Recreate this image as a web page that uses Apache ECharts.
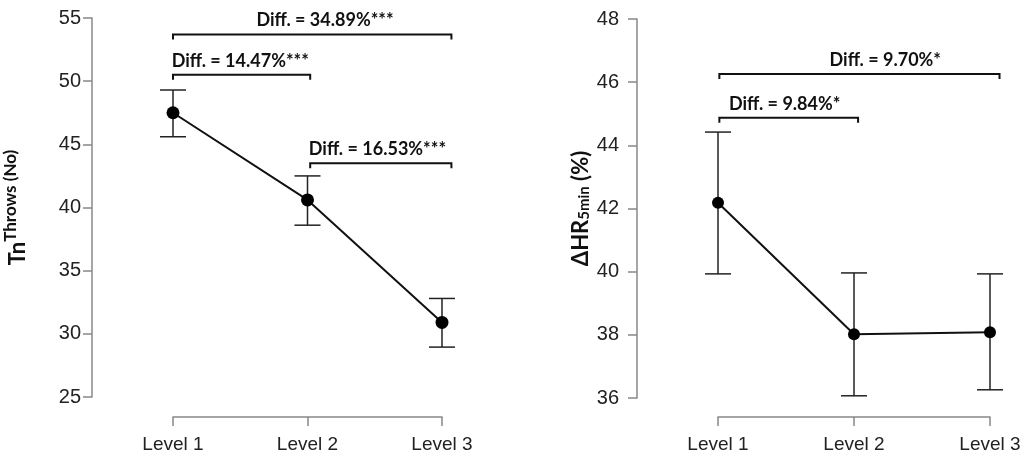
<!DOCTYPE html>
<html>
<head>
<meta charset="utf-8">
<script src="https://cdn.jsdelivr.net/npm/echarts@6/dist/echarts.min.js"></script>
<style>
  html, body { margin: 0; padding: 0; background: #fff; }
  #chart { width: 1021px; height: 457px; }
</style>
</head>
<body>
<div id="chart"></div>
<script>
// 横轴类别
const levels = ['Level 1', 'Level 2', 'Level 3'];
const levelPos = [1, 2, 3];

// 左图：投掷次数（均值与误差范围）
const throwsMean = [47.5, 40.6, 30.9];
const throwsLow = [45.6, 38.6, 28.95];
const throwsHigh = [49.3, 42.5, 32.8];

// 右图：ΔHR 5min
const hrMean = [42.18, 38.02, 38.08];
const hrLow = [39.93, 36.07, 36.26];
const hrHigh = [44.42, 39.96, 39.93];

// 显著性括号（起点、终点、高度、文字中心）
const throwsDiffText = ['Diff. = 34.89%***', 'Diff. = 14.47%***', 'Diff. = 16.53%***'];
const throwsDiffFrom = [1, 1, 2.02];
const throwsDiffTo = [3.07, 2.02, 3.07];
const throwsDiffY = [53.7, 50.5, 43.5];
const throwsDiffLabelX = [2.13, 1.5, 2.52];

const hrDiffText = ['Diff. = 9.70%*', 'Diff. = 9.84%*'];
const hrDiffFrom = [1.01, 1.01];
const hrDiffTo = [3.07, 2.03];
const hrDiffY = [46.26, 44.87];
const hrDiffLabelX = [2.23, 1.49];

const tickFont = "'Liberation Sans', Arial, sans-serif";
const noteFont = "Lato, 'Open Sans', sans-serif";

const chart = echarts.init(document.getElementById('chart'));

function errorBarItem(low, high) {
  return function (params, api) {
    const i = params.dataIndex;
    const top = api.coord([levelPos[i], high[i]]);
    const bot = api.coord([levelPos[i], low[i]]);
    const half = 13;
    const style = { stroke: '#222', lineWidth: 1.5 };
    return {
      type: 'group',
      children: [
        { type: 'line', shape: { x1: top[0], y1: top[1], x2: bot[0], y2: bot[1] }, style },
        { type: 'line', shape: { x1: top[0] - half, y1: top[1], x2: top[0] + half, y2: top[1] }, style },
        { type: 'line', shape: { x1: bot[0] - half, y1: bot[1], x2: bot[0] + half, y2: bot[1] }, style }
      ]
    };
  };
}

function bracketItem(from, to, yv, labelX, texts) {
  return function (params, api) {
    const i = params.dataIndex;
    const a = api.coord([from[i], yv[i]]);
    const b = api.coord([to[i], yv[i]]);
    const t = api.coord([labelX[i], yv[i]]);
    const drop = 5;
    const style = { stroke: '#111', lineWidth: 2, fill: null };
    return {
      type: 'group',
      children: [
        {
          type: 'polyline',
          shape: { points: [[a[0], a[1] + drop], [a[0], a[1]], [b[0], b[1]], [b[0], b[1] + drop]] },
          style
        },
        {
          type: 'text',
          x: t[0],
          y: t[1] - 5,
          style: {
            text: texts[i],
            fill: '#111',
            font: 'bold 18px ' + noteFont,
            textAlign: 'center',
            textVerticalAlign: 'bottom'
          }
        }
      ]
    };
  };
}

function xAxisFor(gridIndex, offset) {
  return {
    type: 'value',
    gridIndex,
    min: 1,
    max: 3,
    interval: 1,
    offset,
    axisLine: { show: true, lineStyle: { color: '#888', width: 1.5 } },
    axisTick: { show: true, length: 9, lineStyle: { color: '#888', width: 1.5 } },
    axisLabel: {
      margin: 18,
      color: '#222',
      fontSize: 19,
      fontFamily: tickFont,
      formatter: (v) => levels[levelPos.indexOf(v)] || ''
    },
    splitLine: { show: false }
  };
}

function yAxisFor(gridIndex, min, max, interval, labelMargin, name, nameGap, rich) {
  return {
    type: 'value',
    gridIndex,
    min,
    max,
    interval,
    offset: 81,
    name,
    nameLocation: 'middle',
    nameRotate: 90,
    nameGap,
    nameTextStyle: { rich },
    axisLine: { show: true, lineStyle: { color: '#888', width: 1.5 } },
    axisTick: { show: true, length: 9, lineStyle: { color: '#888', width: 1.5 } },
    axisLabel: { margin: labelMargin, color: '#222', fontSize: 20, fontFamily: tickFont },
    splitLine: { show: false }
  };
}

const labelRich = {
  big: { fontSize: 22, fontWeight: 'bold', color: '#111', fontFamily: noteFont },
  sup: { fontSize: 17, fontWeight: 'bold', color: '#111', fontFamily: noteFont, padding: [0, 0, 14, 0] },
  sub: { fontSize: 15, fontWeight: 'bold', color: '#111', fontFamily: noteFont, padding: [8, 0, 0, 0] }
};

chart.setOption({
  backgroundColor: '#fff',
  animation: false,
  grid: [
    { left: 173, right: 579, top: 18, bottom: 60, outerBoundsMode: 'none', containLabel: false },
    { left: 718, right: 31, top: 19, bottom: 59, outerBoundsMode: 'none', containLabel: false }
  ],
  xAxis: [xAxisFor(0, 20), xAxisFor(1, 19)],
  yAxis: [
    yAxisFor(0, 25, 55, 5, 11, '{big|Tn}{sup|Throws (No)}', 59, labelRich),
    yAxisFor(1, 36, 48, 2, 18, '{big|ΔHR}{sub|5min}{big| (%)}', 45, labelRich)
  ],
  series: [
    {
      type: 'custom',
      xAxisIndex: 0,
      yAxisIndex: 0,
      renderItem: errorBarItem(throwsLow, throwsHigh),
      data: levelPos,
      z: 1
    },
    {
      type: 'line',
      xAxisIndex: 0,
      yAxisIndex: 0,
      data: levelPos.map((x, i) => [x, throwsMean[i]]),
      symbol: 'circle',
      symbolSize: 13,
      itemStyle: { color: '#000' },
      lineStyle: { color: '#111', width: 2 },
      z: 3
    },
    {
      type: 'custom',
      xAxisIndex: 0,
      yAxisIndex: 0,
      renderItem: bracketItem(throwsDiffFrom, throwsDiffTo, throwsDiffY, throwsDiffLabelX, throwsDiffText),
      data: throwsDiffText.map((_, i) => i),
      z: 2
    },
    {
      type: 'custom',
      xAxisIndex: 1,
      yAxisIndex: 1,
      renderItem: errorBarItem(hrLow, hrHigh),
      data: levelPos,
      z: 1
    },
    {
      type: 'line',
      xAxisIndex: 1,
      yAxisIndex: 1,
      data: levelPos.map((x, i) => [x, hrMean[i]]),
      symbol: 'circle',
      symbolSize: 12,
      itemStyle: { color: '#000' },
      lineStyle: { color: '#111', width: 2 },
      z: 3
    },
    {
      type: 'custom',
      xAxisIndex: 1,
      yAxisIndex: 1,
      renderItem: bracketItem(hrDiffFrom, hrDiffTo, hrDiffY, hrDiffLabelX, hrDiffText),
      data: hrDiffText.map((_, i) => i),
      z: 2
    }
  ]
});

window.addEventListener('resize', () => chart.resize());
</script>
</body>
</html>
